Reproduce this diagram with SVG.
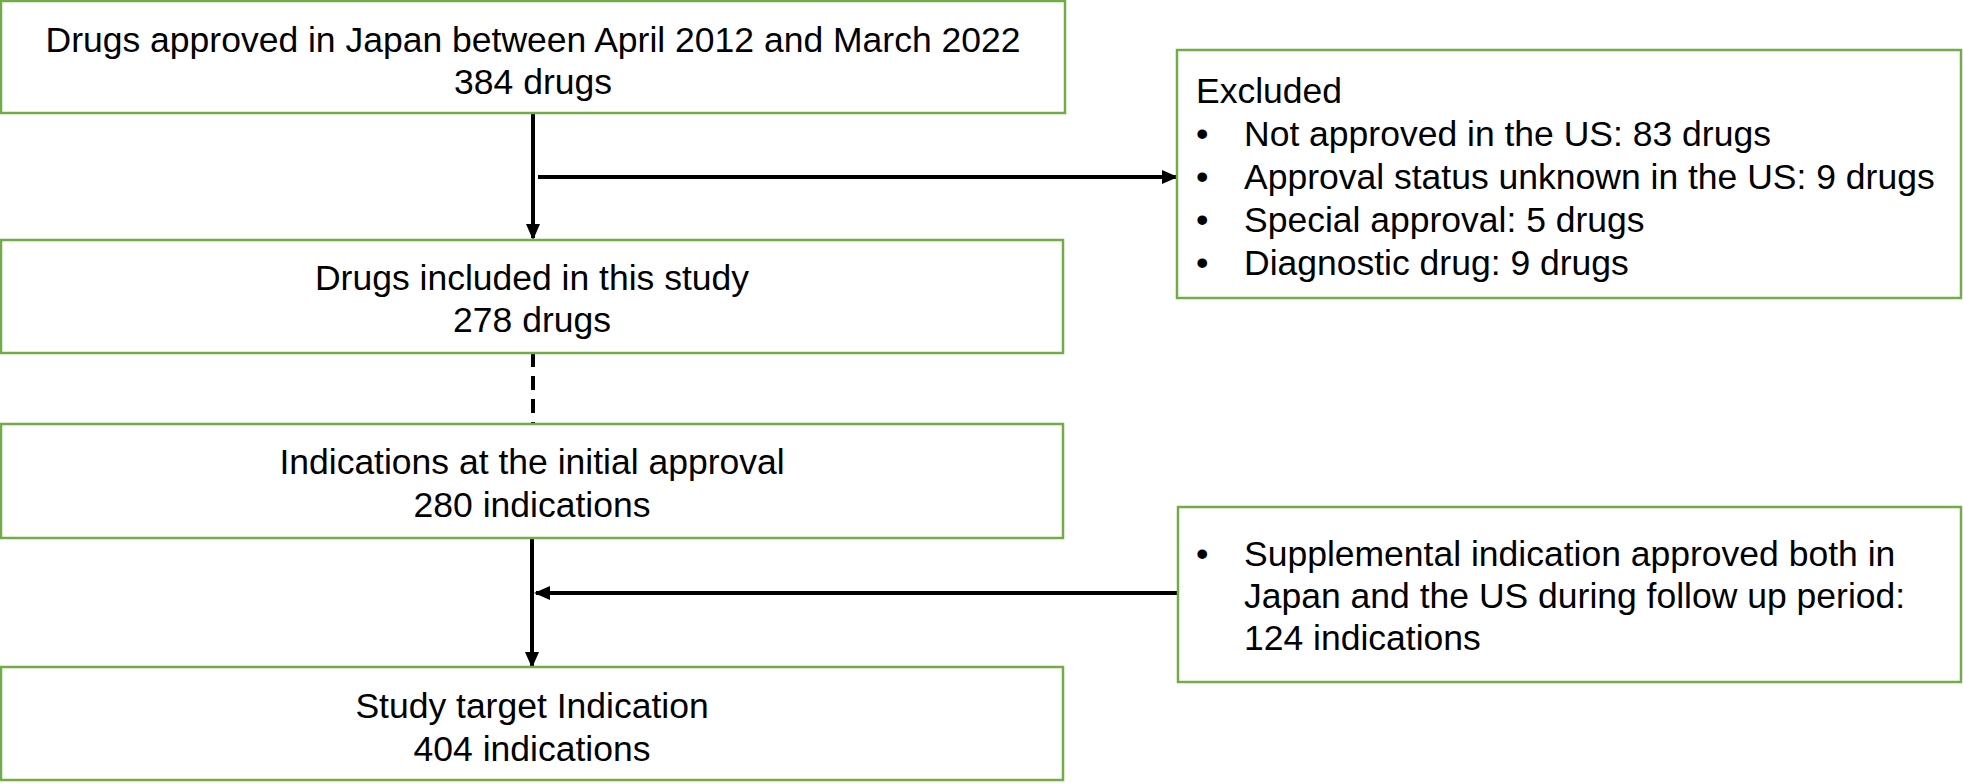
<svg xmlns="http://www.w3.org/2000/svg" width="1963" height="783" viewBox="0 0 1963 783">
<style>
.box{fill:#fff;stroke:#70ad47;stroke-width:2.5}
text{font-family:"Liberation Sans",Arial,sans-serif;font-size:35.5px;fill:#000}
.c{text-anchor:middle}
.ln{stroke:#000;stroke-width:4;fill:none}
</style>
<defs>
<marker id="ah2" markerWidth="16" markerHeight="14" refX="14" refY="7" orient="auto" markerUnits="userSpaceOnUse" viewBox="0 0 16 14"><path d="M0,0 L16,7 L0,14 z" fill="#000"/></marker></defs>
<rect width="1963" height="783" fill="#fff"/>
<g id="connectors">
<line class="ln" x1="533" y1="113" x2="533" y2="238" stroke-width="3" marker-end="url(#ah2)"/>
<line class="ln" x1="538" y1="177" x2="1176" y2="177" marker-end="url(#ah2)"/>
<line class="ln" x1="533" y1="353" x2="533" y2="424" stroke-dasharray="14,9" stroke-width="3"/>
<line class="ln" x1="532" y1="538" x2="532" y2="666" stroke-width="3" marker-end="url(#ah2)"/>
<line class="ln" x1="1178" y1="593" x2="536" y2="593" marker-end="url(#ah2)"/>
</g>
<g id="n1"><rect class="box" x="1" y="1" width="1064" height="112"/>
<text class="c" x="533" y="52">Drugs approved in Japan between April 2012 and March 2022</text>
<text class="c" x="533" y="94">384 drugs</text></g>
<g id="n2"><rect class="box" x="1177" y="50" width="784" height="248"/>
<text x="1196" y="103">Excluded</text>
<text x="1196" y="146">•</text><text x="1244" y="146">Not approved in the US: 83 drugs</text>
<text x="1196" y="189">•</text><text x="1244" y="189">Approval status unknown in the US: 9 drugs</text>
<text x="1196" y="232">•</text><text x="1244" y="232">Special approval: 5 drugs</text>
<text x="1196" y="275">•</text><text x="1244" y="275">Diagnostic drug: 9 drugs</text></g>
<g id="n3"><rect class="box" x="1" y="240" width="1062" height="113"/>
<text class="c" x="532" y="290">Drugs included in this study</text>
<text class="c" x="532" y="332">278 drugs</text></g>
<g id="n4"><rect class="box" x="1" y="424" width="1062" height="114"/>
<text class="c" x="532" y="474">Indications at the initial approval</text>
<text class="c" x="532" y="517">280 indications</text></g>
<g id="n5"><rect class="box" x="1178" y="507" width="783" height="175"/>
<text x="1196" y="566">•</text><text x="1244" y="566">Supplemental indication approved both in</text>
<text x="1244" y="608">Japan and the US during follow up period:</text>
<text x="1244" y="650">124 indications</text></g>
<g id="n6"><rect class="box" x="1" y="667" width="1062" height="113"/>
<text class="c" x="532" y="718">Study target Indication</text>
<text class="c" x="532" y="761">404 indications</text></g>
</svg>
